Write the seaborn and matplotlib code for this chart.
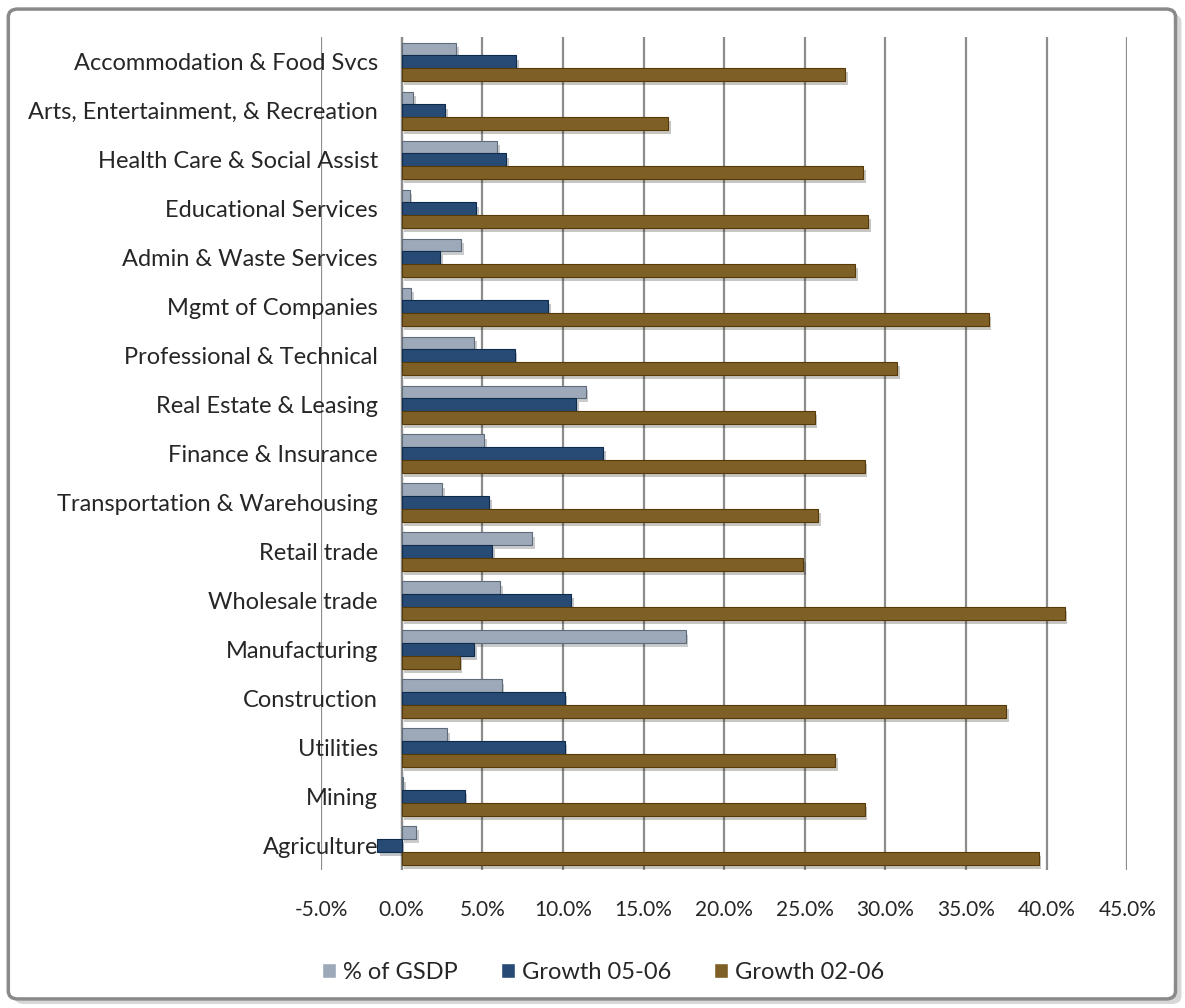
import pandas as pd
import matplotlib
matplotlib.use("Agg")
import matplotlib.pyplot as plt
import matplotlib.patheffects as pe
from matplotlib.patches import FancyBboxPatch
from matplotlib.ticker import FuncFormatter, MultipleLocator
import seaborn as sns

sectors = [
    "Accommodation & Food Svcs",
    "Arts, Entertainment, & Recreation",
    "Health Care & Social Assist",
    "Educational Services",
    "Admin & Waste Services",
    "Mgmt of Companies",
    "Professional & Technical",
    "Real Estate & Leasing",
    "Finance & Insurance",
    "Transportation & Warehousing",
    "Retail trade",
    "Wholesale trade",
    "Manufacturing",
    "Construction",
    "Utilities",
    "Mining",
    "Agriculture",
]
pct_gsdp = [3.4, 0.7, 5.9, 0.5, 3.7, 0.6, 4.5, 11.4, 5.1, 2.5, 8.1, 6.1, 17.6, 6.2, 2.8, 0.1, 0.9]
growth_05_06 = [7.1, 2.7, 6.5, 4.6, 2.4, 9.1, 7.0, 10.8, 12.5, 5.4, 5.6, 10.5, 4.5, 10.1, 10.1, 3.9, -1.5]
growth_02_06 = [27.5, 16.5, 28.6, 28.9, 28.1, 36.4, 30.7, 25.6, 28.7, 25.8, 24.9, 41.1, 3.6, 37.5, 26.9, 28.7, 39.5]
series = ["% of GSDP", "Growth 05-06", "Growth 02-06"]
colors = ["#98A8BC", "#1B4A82", "#8C6418"]
edges = ["#5E6B7B", "#0E2A4C", "#553A08"]

df = pd.DataFrame({"sector": sectors * 3,
                   "value": pct_gsdp + growth_05_06 + growth_02_06,
                   "series": [s for s in series for _ in sectors]})

sns.set_style("white")
plt.rcParams["font.family"] = ["Lato", "DejaVu Sans"]

fig = plt.figure(figsize=(11.85, 10.08), dpi=100)
ax = fig.add_axes([0.2709, 0.137, 0.6805, 0.826])

sns.barplot(data=df, y="sector", x="value", hue="series", order=sectors,
            hue_order=series, palette=colors, orient="h", width=0.78,
            errorbar=None, ax=ax, zorder=3)

for i, cont in enumerate(ax.containers):
    for bar in cont:
        bar.set_edgecolor(edges[i])
        bar.set_linewidth(0.8)
        bar.set_path_effects([pe.SimplePatchShadow(offset=(2, -3), alpha=0.25),
                              pe.Normal()])

ax.set_xlim(-5, 45)
ax.xaxis.set_major_locator(MultipleLocator(5))
ax.xaxis.set_major_formatter(FuncFormatter(lambda v, p: f"{v:.1f}%"))
ax.grid(axis="x", color="#8C8C8C", linewidth=1.6, zorder=0)
ax.axvline(0, color="#8C8C8C", linewidth=1.6, zorder=1)
for s in ax.spines.values():
    s.set_visible(False)
ax.tick_params(axis="x", length=0, pad=22, labelsize=15)
# category labels sit just left of the 0% line, over the -5% gridline
ax.tick_params(axis="y", length=0, pad=-41, labelsize=17)
for lbl in ax.get_yticklabels():
    lbl.set_zorder(5)
ax.set_xlabel("")
ax.set_ylabel("")

ax.legend(loc="center", bbox_to_anchor=(0.509, 0.0355), bbox_transform=fig.transFigure,
          ncol=3, frameon=False, fontsize=17, handlelength=0.6, handleheight=0.6,
          handletextpad=0.3, columnspacing=1.8)

# outer chart frame with soft shadow
fig.patches.append(FancyBboxPatch((0.012, 0.004), 0.985, 0.982,
                                  boxstyle="round,pad=0,rounding_size=0.008",
                                  transform=fig.transFigure, facecolor="#BDBDBD",
                                  edgecolor="none", alpha=0.6, zorder=-2))
fig.patches.append(FancyBboxPatch((0.007, 0.009), 0.985, 0.982,
                                  boxstyle="round,pad=0,rounding_size=0.008",
                                  transform=fig.transFigure, facecolor="white",
                                  edgecolor="#8A8A8A", linewidth=2.5, zorder=-1))

fig.savefig("out.png", dpi=100)
